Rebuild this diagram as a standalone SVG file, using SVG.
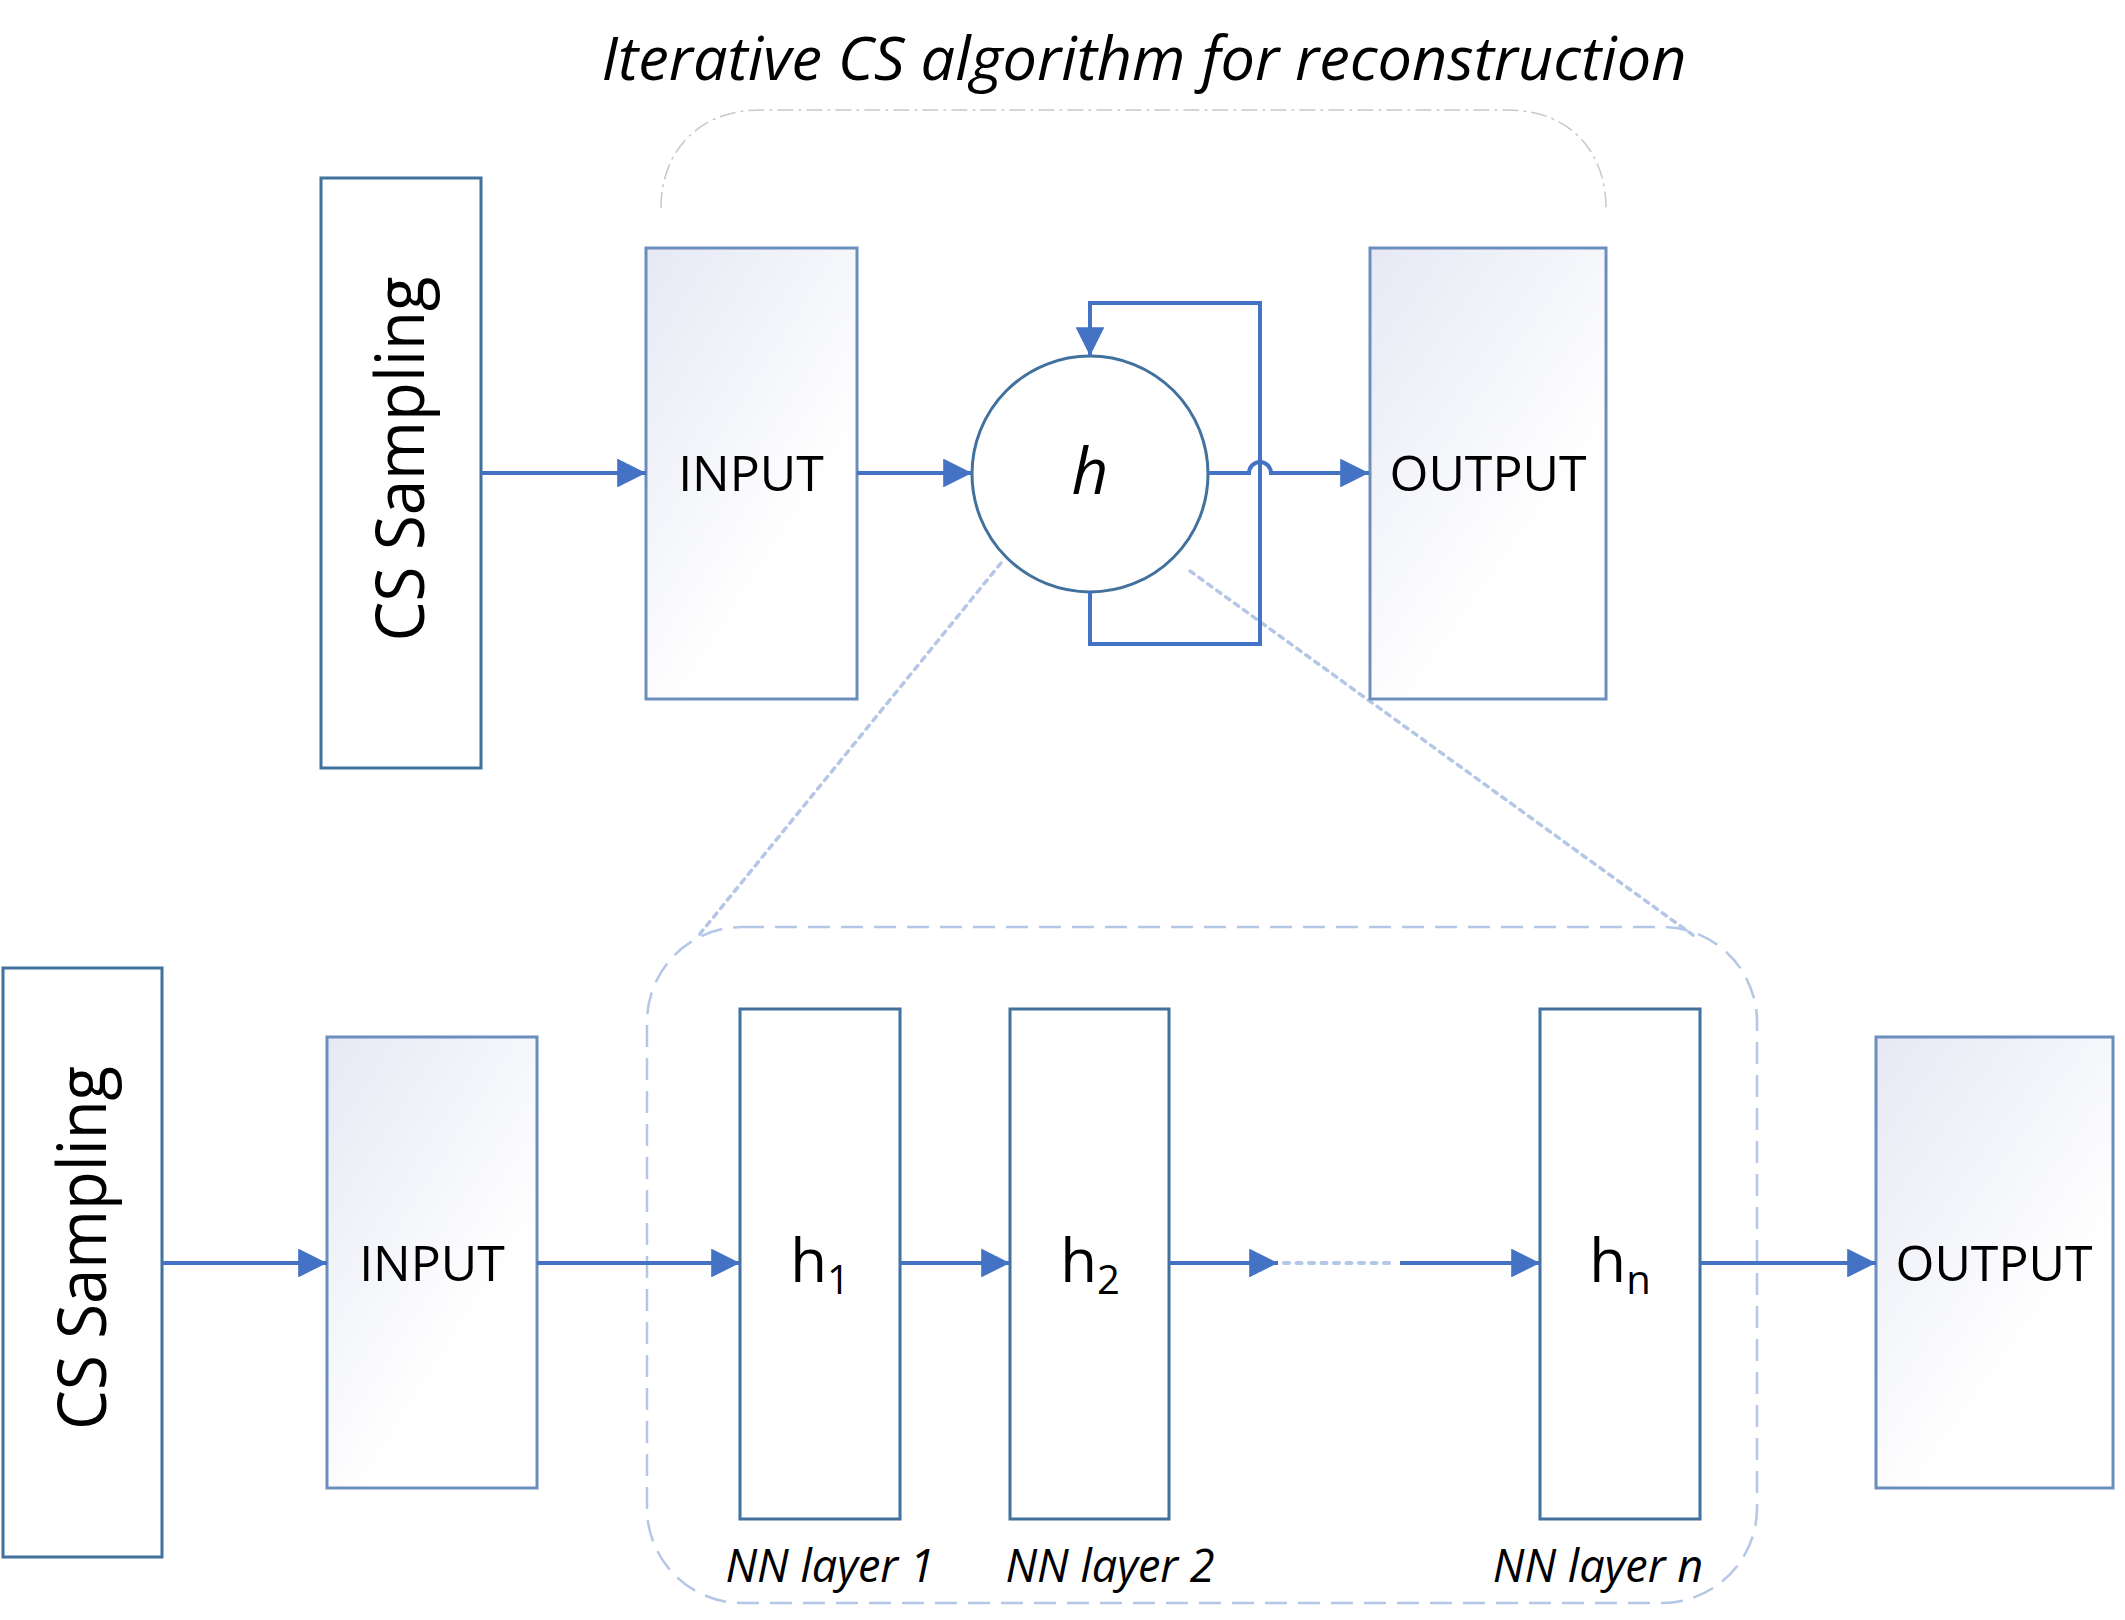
<svg xmlns="http://www.w3.org/2000/svg" width="2125" height="1620" viewBox="0 0 2125 1620">
<style>
.t{font-family:"Open Sans","Liberation Sans",sans-serif;fill:#000}
.it{font-style:italic}
.node{fill:#fff;stroke:#41719c;stroke-width:3}
.io{fill:url(#grad);stroke:#6c8ebf;stroke-width:3}
.conn{fill:none;stroke:#4472c4;stroke-width:4}
.guide{fill:none;stroke:#b4c7e7;stroke-width:3.5;stroke-dasharray:5 6;stroke-linecap:round}
</style>
<defs>
<linearGradient id="grad" x1="0" y1="0" x2="0.55" y2="0.75">
<stop offset="0" stop-color="#e6e9f4"/>
<stop offset="1" stop-color="#ffffff"/>
</linearGradient>
<marker id="arr" viewBox="0 0 10 10" refX="10" refY="5" markerWidth="7.2" markerHeight="7.2" markerUnits="strokeWidth" orient="auto">
<path d="M0,0 L10,5 L0,10 Z" fill="#4472c4"/>
</marker>
</defs>

<text class="t it" x="1144" y="80" font-size="60" text-anchor="middle" textLength="1085" lengthAdjust="spacingAndGlyphs">Iterative CS algorithm for reconstruction</text>

<path d="M661,208 C661,150 700,110 760,110 L1508,110 C1568,110 1606,150 1606,208" fill="none" stroke="#c8c8c8" stroke-width="1.5" stroke-dasharray="16 5 3 5"/>

<g id="guides">
<line class="guide" x1="1001" y1="563" x2="699" y2="935"/>
<line class="guide" x1="1190" y1="571" x2="1697" y2="938"/>
</g>

<g id="group-nn">
<rect x="647" y="927" width="1110" height="676" rx="95" ry="95" fill="none" stroke="#b4c7e7" stroke-width="2.5" stroke-dasharray="22 11"/>
</g>

<g id="cs1">
<rect class="node" x="321" y="178" width="160" height="590"/>
<text class="t" transform="translate(424,459) rotate(-90)" font-size="68" text-anchor="middle" textLength="365" lengthAdjust="spacingAndGlyphs">CS Sampling</text>
</g>
<g id="input1">
<rect class="io" x="646" y="248" width="211" height="451"/>
<text class="t" x="751" y="491" font-size="50" text-anchor="middle">INPUT</text>
</g>
<g id="h">
<circle cx="1090" cy="474" r="118" fill="#fff" stroke="#41719c" stroke-width="3"/>
<text class="t it" x="1090" y="494" font-size="64" text-anchor="middle">h</text>
</g>
<g id="output1">
<rect class="io" x="1370" y="248" width="236" height="451" stroke="#6d8fbd"/>
<text class="t" x="1488" y="491" font-size="50" text-anchor="middle">OUTPUT</text>
</g>

<g id="cs2">
<rect class="node" x="3" y="968" width="159" height="589"/>
<text class="t" transform="translate(106,1248) rotate(-90)" font-size="68" text-anchor="middle" textLength="364" lengthAdjust="spacingAndGlyphs">CS Sampling</text>
</g>
<g id="input2">
<rect class="io" x="327" y="1037" width="210" height="451"/>
<text class="t" x="432" y="1281" font-size="50" text-anchor="middle">INPUT</text>
</g>
<g id="h1">
<rect class="node" x="740" y="1009" width="160" height="510"/>
<text class="t" x="820" y="1282" font-size="60" text-anchor="middle">h<tspan font-size="40" dy="12">1</tspan></text>
<text class="t it" x="830" y="1582" font-size="45" text-anchor="middle">NN layer 1</text>
</g>
<g id="h2">
<rect class="node" x="1010" y="1009" width="159" height="510"/>
<text class="t" x="1090" y="1282" font-size="60" text-anchor="middle">h<tspan font-size="40" dy="12">2</tspan></text>
<text class="t it" x="1110" y="1582" font-size="45" text-anchor="middle">NN layer 2</text>
</g>
<g id="hn">
<rect class="node" x="1540" y="1009" width="160" height="510"/>
<text class="t" x="1620" y="1282" font-size="60" text-anchor="middle">h<tspan font-size="40" dy="12">n</tspan></text>
<text class="t it" x="1598" y="1582" font-size="45" text-anchor="middle">NN layer n</text>
</g>
<g id="output2">
<rect class="io" x="1876" y="1037" width="237" height="451" stroke="#4a6fb5"/>
<text class="t" x="1994" y="1281" font-size="50" text-anchor="middle">OUTPUT</text>
</g>

<g id="connectors">
<line class="conn" x1="481" y1="473" x2="646" y2="473" marker-end="url(#arr)"/>
<line class="conn" x1="857" y1="473" x2="972" y2="473" marker-end="url(#arr)"/>
<path class="conn" d="M1208,473 L1249,473 A11,11 0 0 1 1271,473 L1369,473" marker-end="url(#arr)"/>
<path class="conn" d="M1090,592 L1090,644 L1260,644 L1260,303 L1090,303 L1090,356" marker-end="url(#arr)"/>

<line class="conn" x1="162" y1="1263" x2="327" y2="1263" marker-end="url(#arr)"/>
<line class="conn" x1="537" y1="1263" x2="740" y2="1263" marker-end="url(#arr)"/>
<line class="conn" x1="900" y1="1263" x2="1010" y2="1263" marker-end="url(#arr)"/>
<line class="conn" x1="1169" y1="1263" x2="1278" y2="1263" marker-end="url(#arr)"/>
<line x1="1284" y1="1263" x2="1396" y2="1263" stroke="#b4c7e7" stroke-width="4" stroke-dasharray="5 7.5" stroke-linecap="round"/>
<line class="conn" x1="1400" y1="1263" x2="1540" y2="1263" marker-end="url(#arr)"/>
<line class="conn" x1="1700" y1="1263" x2="1876" y2="1263" marker-end="url(#arr)"/>
</g>
</svg>
